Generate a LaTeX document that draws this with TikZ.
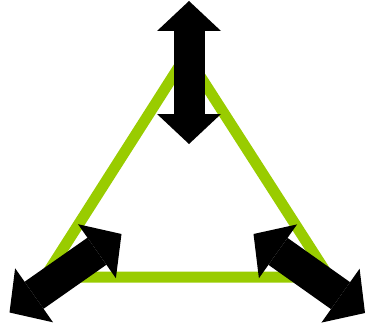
\documentclass[tikz,border=0pt]{standalone}
\usetikzlibrary{arrows.meta}
\definecolor{leafgreen}{RGB}{153,204,0}
\tikzset{
    bigtip/.tip={Triangle[length=30pt,width=64pt,line width=0pt]},
    widetip/.tip={Triangle[length=30pt,width=66pt,line width=0pt]},
    bigarrow/.style={line width=31pt, bigtip-bigtip},
    widearrow/.style={line width=33pt, widetip-widetip},
    side/.style={leafgreen, line width=11pt}
}
\begin{document}
\begin{tikzpicture}[x=1pt,y=-1pt]
    \useasboundingbox (0,0) rectangle (366,326);

    % corners of the triangle
    \coordinate (T) at (186.5,55);
    \coordinate (L) at (45,277);
    \coordinate (R) at (329,277);

    % ends of the arrows
    \coordinate (T1) at (189,1);
    \coordinate (T2) at (189,144);
    \coordinate (L1) at (9.5,312.5);
    \coordinate (L2) at (121.5,234);
    \coordinate (R1) at (253.5,234);
    \coordinate (R2) at (365,313);

    % triangle
    \draw[side] (T) -- (L) -- (R) -- cycle;

    % arrows
    \draw[bigarrow] (T1) -- (T2);
    \draw[widearrow] (L1) -- (L2);
    \draw[widearrow] (R1) -- (R2);

\end{tikzpicture}
\end{document}
